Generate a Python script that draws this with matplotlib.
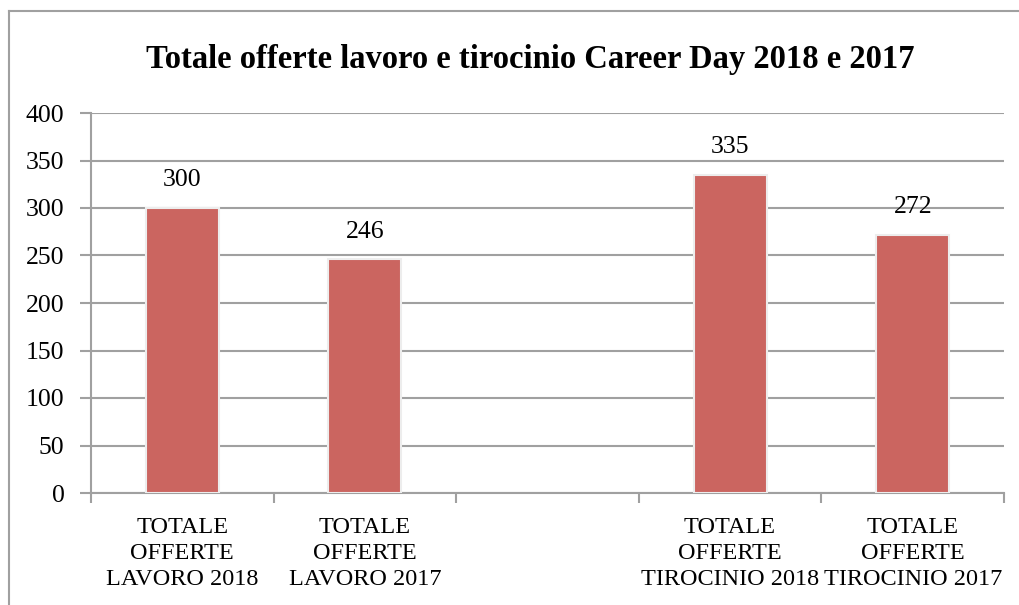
import matplotlib.pyplot as plt
from matplotlib.lines import Line2D

categories = ["TOTALE\nOFFERTE\nLAVORO 2018", "TOTALE\nOFFERTE\nLAVORO 2017", "",
              "TOTALE\nOFFERTE\nTIROCINIO 2018", "TOTALE\nOFFERTE\nTIROCINIO 2017"]
values = [300, 246, None, 335, 272]
yticks = [0, 50, 100, 150, 200, 250, 300, 350, 400]

plt.rcParams['font.family'] = ['Liberation Serif', 'DejaVu Serif']

W, H = 1019, 605
fig = plt.figure(figsize=(W / 100, H / 100), dpi=100)
ax = fig.add_axes([91 / W, 1 - 493 / H, (1004 - 91) / W, (493 - 113) / H])

grey = '#A0A0A0'
xs = [i for i, v in enumerate(values) if v is not None]
vals = [v for v in values if v is not None]
bars = ax.bar(xs, vals, width=0.4, color='#CB6560', edgecolor='#EDEDED', linewidth=1.5, zorder=3)
for x, v in zip(xs, vals):
    ax.text(x, v + 29, str(v), ha='center', va='center', fontsize=18.5)

ax.set_xlim(-0.5, len(categories) - 0.5)
ax.set_ylim(0, 400)
ax.set_yticks(yticks)
ax.tick_params(axis='y', labelsize=18.5, length=8, color=grey, width=1.5, pad=11)
ax.yaxis.grid(True, color=grey, linewidth=1.5)
ax.set_axisbelow(True)

ax.set_xticks(range(len(categories)))
ax.set_xticklabels(categories, fontsize=17.5, linespacing=1.32)
ax.tick_params(axis='x', length=0, pad=17)
ax.set_xticks([i - 0.5 for i in range(len(categories) + 1)], minor=True)
ax.tick_params(axis='x', which='minor', length=7, color=grey, width=1.5)

for s in ['top', 'right']:
    ax.spines[s].set_visible(False)
for s in ['left', 'bottom']:
    ax.spines[s].set_color(grey)
    ax.spines[s].set_linewidth(1.5)

fig.text(530 / W, 1 - 68 / H, "Totale offerte lavoro e tirocinio Career Day 2018 e 2017",
         ha='center', va='baseline', fontsize=23.5, fontweight='bold')

# outer chart frame
fig.add_artist(Line2D([9 / W, 9 / W], [0, 1 - 11 / H], color=grey, linewidth=1.5))
fig.add_artist(Line2D([9 / W, 1], [1 - 11 / H, 1 - 11 / H], color=grey, linewidth=1.5))

fig.savefig("out.png", dpi=100)
